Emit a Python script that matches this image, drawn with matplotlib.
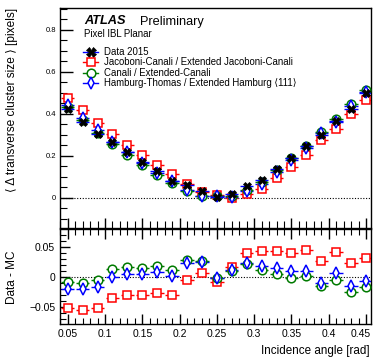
import matplotlib
matplotlib.use("Agg")
import matplotlib.pyplot as plt
import matplotlib.transforms as mtransforms
import numpy as np
from matplotlib.ticker import MultipleLocator, FixedLocator

plt.rcParams['font.family'] = ['Liberation Sans', 'DejaVu Sans']

# ---- data ----
angle = [0.05, 0.07, 0.09, 0.11, 0.13, 0.15, 0.17, 0.19, 0.21, 0.23, 0.25,
         0.27, 0.29, 0.31, 0.33, 0.35, 0.37, 0.39, 0.41, 0.43, 0.45]
data2015 = [0.421, 0.359, 0.303, 0.267, 0.219, 0.171, 0.125, 0.080, 0.058, 0.033, 0.005,
            0.016, 0.056, 0.083, 0.135, 0.188, 0.248, 0.299, 0.367, 0.422, 0.497]
diff_jacoboni = [-0.053, -0.056, -0.053, -0.035, -0.030, -0.030, -0.028, -0.030, -0.005, 0.006, -0.009,
                 0.016, 0.040, 0.043, 0.042, 0.040, 0.044, 0.026, 0.041, 0.022, 0.031]
diff_canali = [-0.009, -0.011, -0.006, 0.012, 0.016, 0.015, 0.017, 0.011, 0.028, 0.026, -0.002,
               0.010, 0.021, 0.011, 0.004, -0.002, 0.001, -0.015, -0.006, -0.025, -0.017]
diff_hamburg = [-0.020, -0.021, -0.018, 0.000, 0.004, 0.004, 0.007, 0.001, 0.023, 0.025, -0.002,
                0.011, 0.023, 0.018, 0.015, 0.010, 0.010, -0.010, 0.006, -0.015, -0.008]
x_ticks = [0.05, 0.1, 0.15, 0.2, 0.25, 0.3, 0.35, 0.4, 0.45]
x_half_width = 0.009
y_err_top = 0.003
y_err_ratio = 0.004

labels = ["Data 2015", "Jacoboni-Canali / Extended Jacoboni-Canali",
          "Canali / Extended-Canali", "Hamburg-Thomas / Extended Hamburg \u27e8111\u27e9"]

x = np.array(angle)
d = np.array(data2015)
series = [
    (np.array(diff_jacoboni), '#ff0000', 's', 5.8),
    (np.array(diff_canali), '#007a00', 'o', 6.2),
    (np.array(diff_hamburg), '#0000ff', 'd', 5.8),
]

W, H = 374, 357
fig = plt.figure(figsize=(W / 100, H / 100), dpi=100)

def fx(px):
    return px / W

def fy(py):
    return 1 - py / H

L, R = 60, 370.7
ax = fig.add_axes([fx(L), fy(228), fx(R) - fx(L), fy(8) - fy(228)])
axr = fig.add_axes([fx(L), fy(324), fx(R) - fx(L), fy(229.3) - fy(324)])

for a in (ax, axr):
    a.set_xlim(0.0397, 0.4563)
    for s in a.spines.values():
        s.set_linewidth(1.0)
ax.set_ylim(-0.145, 0.9035)
axr.set_ylim(-0.079, 0.079)

# top panel
ax.axhline(0, color='black', lw=0.8, ls=(0, (1, 1.5)), zorder=1)
for diff, col, mk, ms in series:
    mc = d - diff
    ax.errorbar(x, mc, xerr=x_half_width, yerr=y_err_top, fmt=mk, color=col, mfc='white',
                mec=col, ms=ms, mew=1.1, elinewidth=1.0, capsize=0, zorder=3)
ax.errorbar(x, d, xerr=x_half_width, yerr=y_err_top, fmt='X', color='#0000ff', mfc='black',
            mec='black', ms=6, mew=0.5, elinewidth=1.0, capsize=0, zorder=5)

# ratio panel
axr.axhline(0, color='black', lw=0.8, ls=(0, (1, 1.5)), zorder=1)
for diff, col, mk, ms in series:
    axr.errorbar(x, diff, xerr=x_half_width, yerr=y_err_ratio, fmt=mk, color=col, mfc='white',
                 mec=col, ms=ms, mew=1.1, elinewidth=1.0, capsize=0, zorder=3)

# ticks
ax.yaxis.set_major_locator(MultipleLocator(0.2))
ax.yaxis.set_minor_locator(MultipleLocator(0.05))
for a in (ax, axr):
    a.xaxis.set_major_locator(FixedLocator(x_ticks))
    a.xaxis.set_minor_locator(MultipleLocator(0.01))
axr.yaxis.set_major_locator(FixedLocator([-0.05, 0, 0.05]))
axr.yaxis.set_minor_locator(MultipleLocator(0.01))

ax.tick_params(axis='both', which='major', direction='in', length=9, width=1.0,
               top=False, right=False, labelsize=5.5)
ax.tick_params(axis='both', which='minor', direction='in', length=5, width=0.8,
               top=False, right=False)
ax.tick_params(axis='y', pad=3)
ax.tick_params(axis='x', labelbottom=False, length=7)
axr.tick_params(axis='both', which='major', direction='in', length=7, width=1.0,
                top=True, right=False, labelsize=7.5)
axr.tick_params(axis='both', which='minor', direction='in', length=4, width=0.8,
                top=True, right=False)

ax.yaxis.set_major_formatter(plt.FuncFormatter(lambda v, p: f"{v:g}"))
axr.yaxis.set_major_formatter(plt.FuncFormatter(lambda v, p: "0" if abs(v) < 1e-9 else ("\u2212" if v < 0 else "") + f"{abs(v):g}"))
axr.xaxis.set_major_formatter(plt.FuncFormatter(lambda v, p: f"{v:g}"))

# labels
fig.text(fx(12), fy(8), "\u27e8 \u0394 transverse cluster size \u27e9 [pixels]", rotation=90,
         ha='center', va='top', fontsize=8.6)
fig.text(fx(12), fy(277), "Data - MC", rotation=90, ha='center', va='center', fontsize=8.5)
fig.text(fx(370), fy(354), "Incidence angle [rad]", ha='right', va='baseline', fontsize=8.4)

# annotations
def axpos(px, py):
    return (px - L) / (R - L), 1 - (py - 8) / 220

ax.text(*axpos(84, 24.5), "ATLAS", transform=ax.transAxes, fontsize=9.2, fontweight='bold',
        fontstyle='italic', ha='left', va='baseline')
ax.text(*axpos(140, 24.5), "Preliminary", transform=ax.transAxes, fontsize=9.2,
        ha='left', va='baseline')
ax.text(*axpos(84, 37), "Pixel IBL Planar", transform=ax.transAxes, fontsize=6.9,
        ha='left', va='baseline')

# legend (manual)
rows = [51.7, 62.3, 72.7, 83.3]
styles = [('#0000ff', 'X', 'black', 'black', 6.5, 0.5)] + \
         [(col, mk, 'white', col, ms, 1.1) for _, col, mk, ms in series]
for lab, py, (lc, mk, mfc, mec, ms, mew) in zip(labels, rows, styles):
    x0, yy = axpos(83, py)
    x1, _ = axpos(98, py)
    xm, _ = axpos(90.5, py)
    ax.plot([x0, x1], [yy, yy], color=lc, lw=1.0, transform=ax.transAxes, clip_on=False, zorder=6)
    ax.plot([xm], [yy], marker=mk, mfc=mfc, mec=mec, ms=ms, mew=mew, ls='none',
            transform=ax.transAxes, clip_on=False, zorder=7)
    tx, _ = axpos(104, py)
    ax.text(tx, yy, lab, transform=ax.transAxes, fontsize=6.9, ha='left', va='center')

# keep the last x tick label inside the canvas (as in the reference)
fig.canvas.draw()
last_tick = axr.xaxis.get_major_ticks()[-1]
last_tick.label1.set_transform(last_tick.label1.get_transform() +
                               mtransforms.ScaledTranslation(-0.05, 0, fig.dpi_scale_trans))

fig.savefig("out.png", dpi=100)
